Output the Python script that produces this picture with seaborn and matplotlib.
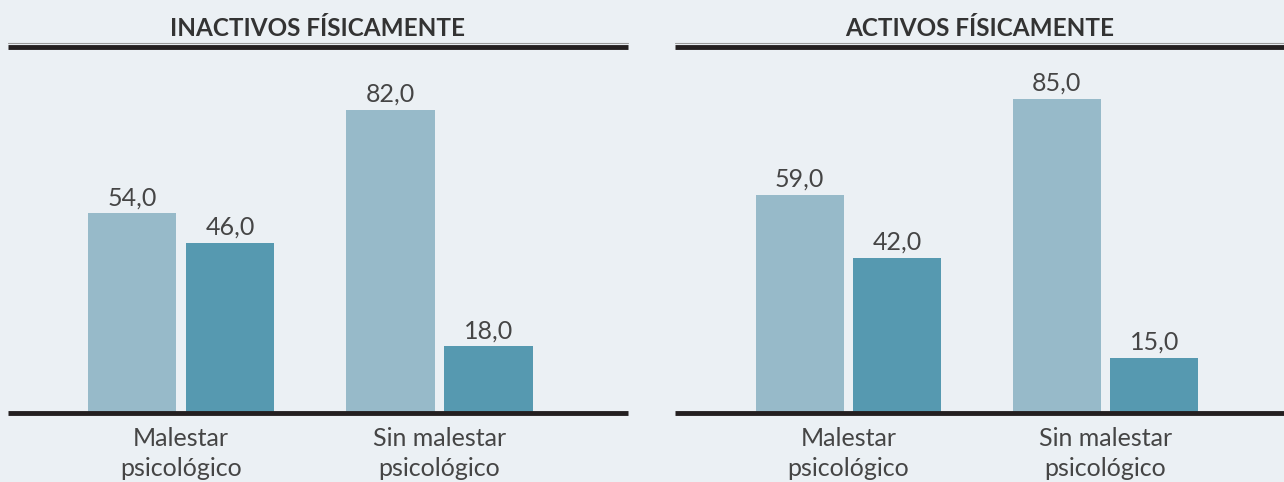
import numpy as np
import pandas as pd
import seaborn as sns
import matplotlib.pyplot as plt

# data
categorias = ["Malestar\npsicológico", "Sin malestar\npsicológico"]
series = ["Serie A", "Serie B"]
inactivos_a = [54.0, 82.0]
inactivos_b = [46.0, 18.0]
activos_a = [59.0, 85.0]
activos_b = [42.0, 15.0]
paneles = ["INACTIVOS FÍSICAMENTE", "ACTIVOS FÍSICAMENTE"]

bg = "#EBF0F4"
colores = ["#97BAC9", "#5699B0"]
texto = "#454545"

sns.set_theme(style="white")
plt.rcParams["font.family"] = ["Lato", "DejaVu Sans"]

def build_df(a, b):
    return pd.DataFrame({
        "categoria": categorias * 2,
        "serie": [series[0]] * 2 + [series[1]] * 2,
        "valor": a + b,
    })

fig = plt.figure(figsize=(12.84, 4.82), dpi=100)
fig.patch.set_facecolor(bg)

W, H = 1284, 482
posiciones = [
    [8 / W, 69 / H, 620 / W, 366 / H],
    [675 / W, 69 / H, 609 / W, 366 / H],
]
xlims = [(-0.669, 1.729), (-0.675, 1.695)]
datos = [build_df(inactivos_a, inactivos_b), build_df(activos_a, activos_b)]

for pos, xl, df, titulo in zip(posiciones, xlims, datos, paneles):
    ax = fig.add_axes(pos)
    ax.set_facecolor(bg)
    sns.barplot(data=df, x="categoria", y="valor", hue="serie",
                palette=colores, width=0.76, gap=0.1, ax=ax,
                legend=False, saturation=1, linewidth=0)
    for cont in ax.containers:
        ax.bar_label(cont, labels=[f"{v:.1f}".replace(".", ",") for v in cont.datavalues],
                     padding=3, fontsize=18, color=texto)
    ax.set_xlim(*xl)
    ax.set_ylim(0, 99)
    ax.set_yticks([])
    ax.set_xlabel("")
    ax.set_ylabel("")
    ax.tick_params(axis="x", length=0, pad=10, labelsize=18, labelcolor=texto)
    for lab in ax.get_xticklabels():
        lab.set_linespacing(1.4)
    for s in ["left", "right"]:
        ax.spines[s].set_visible(False)
    for s in ["top", "bottom"]:
        ax.spines[s].set_color("#231F20")
        ax.spines[s].set_linewidth(3.5)
        ax.spines[s].set_capstyle("butt")
    # thin grey rule just above the top bar
    ax.plot([0, 1], [1.011, 1.011], transform=ax.transAxes, color="#9A9A9A",
            lw=0.8, clip_on=False, zorder=0)
    ax.set_title(titulo, fontsize=17.5, fontweight="bold", color="#333333", pad=8)

fig.savefig("out.png", dpi=100, facecolor=bg)
